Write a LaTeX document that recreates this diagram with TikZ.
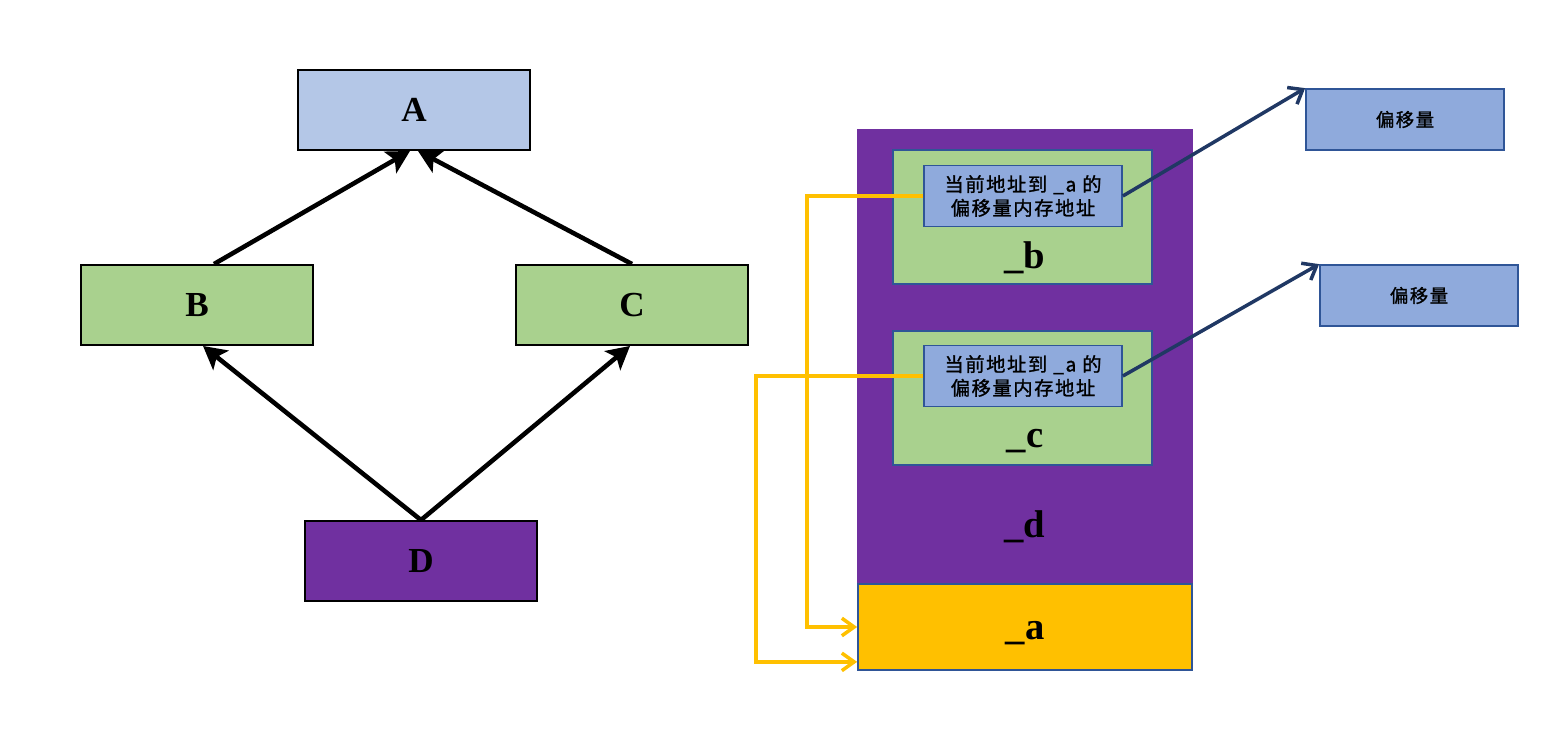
\documentclass[tikz,border=0pt]{standalone}
\usepackage{fontspec}
\setmainfont{Liberation Serif}
\newfontfamily\cjk{Noto Sans CJK SC}[LetterSpace=8, FakeBold=1.2]
\usetikzlibrary{arrows.meta}

\definecolor{clsA}{HTML}{B4C7E7}
\definecolor{clsgreen}{HTML}{A9D18E}
\definecolor{clspurple}{HTML}{7030A0}
\definecolor{ptrblue}{HTML}{8FAADC}
\definecolor{edgeblue}{HTML}{2F5597}
\definecolor{darkblue}{HTML}{203864}
\definecolor{gold}{HTML}{FFC000}

\begin{document}
\begin{tikzpicture}[x=0.02cm, y=-0.02cm,
    cls/.style={draw=black, line width=1.1pt, minimum width=4.64cm, minimum height=1.6cm,
        inner sep=0pt, font=\fontsize{20}{24}\selectfont\bfseries},
    inherit/.style={line width=2.6pt, -{Stealth[length=13pt,width=14pt,inset=3pt]}},
    member/.style={draw=edgeblue, line width=1pt, fill=clsgreen,
        minimum width=5.18cm, minimum height=2.68cm, inner sep=0pt},
    vbptr/.style={draw=edgeblue, line width=1pt, fill=ptrblue, minimum width=3.96cm,
        minimum height=1.22cm, inner sep=0pt, align=center,
        font=\cjk\fontsize{11}{13.5}\selectfont},
    memlabel/.style={font=\fontsize{22}{26}\selectfont\bfseries, inner sep=0pt},
    ptrline/.style={draw=darkblue, line width=2pt, -{Straight Barb[length=7pt,width=11pt]}},
    goldline/.style={draw=gold, line width=2pt, -{Straight Barb[length=7pt,width=10pt]}}]
\useasboundingbox (0,0) rectangle (1562,734);

% Diamond inheritance
\node[cls, fill=clsA] (A) at (414,110) {A};
\node[cls, fill=clsgreen] (B) at (197,305) {B};
\node[cls, fill=clsgreen] (C) at (632,305) {C};
\node[cls, fill=clspurple] (D) at (421,561) {D};

\draw[inherit] ([xshift=0.34cm]B.north) -- ([xshift=-0.08cm]A.south);
\draw[inherit] (C.north) -- ([xshift=0.08cm]A.south);
\draw[inherit] (D.north) -- ([xshift=0.12cm]B.south);
\draw[inherit] (D.north) -- ([xshift=-0.04cm]C.south);

% Memory layout of D
\node[fill=clspurple, minimum width=6.72cm, minimum height=10.82cm, inner sep=0pt] (memd) at (1025,399.5) {};
\node[draw=edgeblue, line width=1pt, fill=gold, minimum width=6.68cm, minimum height=1.72cm,
    inner sep=0pt] (mema) at (1025,627) {};

\node[member] (memb) at (1022.5,217) {};
\node[member] (memc) at (1022.5,398) {};

\node[vbptr] (ptrb) at (1023,196) {当前地址到 \_a 的\\偏移量内存地址};
\node[vbptr] (ptrc) at (1023,376) {当前地址到 \_a 的\\偏移量内存地址};

\node[memlabel] (lblb) at (1025,258) {\_b};
\node[memlabel] (lblc) at (1025,441) {\_c};
\node[memlabel] (lbld) at (1025,527) {\_d};
\node[memlabel] (lbla) at (1025,633) {\_a};

% Offsets
\node[vbptr, font=\cjk\fontsize{10.5}{12}\selectfont] (offb) at (1405,119.5) {偏移量};
\node[vbptr, font=\cjk\fontsize{10.5}{12}\selectfont] (offc) at (1419,295.5) {偏移量};

\draw[ptrline] (ptrb.east) -- (offb.north west);
\draw[ptrline] (ptrc.east) -- (offc.north west);

\draw[goldline] (ptrb.west) -- ++(-116,0) |- (mema.west);
\draw[goldline] (ptrc.west) -- ++(-167,0) |- ([yshift=0.18cm]mema.south west);

\end{tikzpicture}
\end{document}
